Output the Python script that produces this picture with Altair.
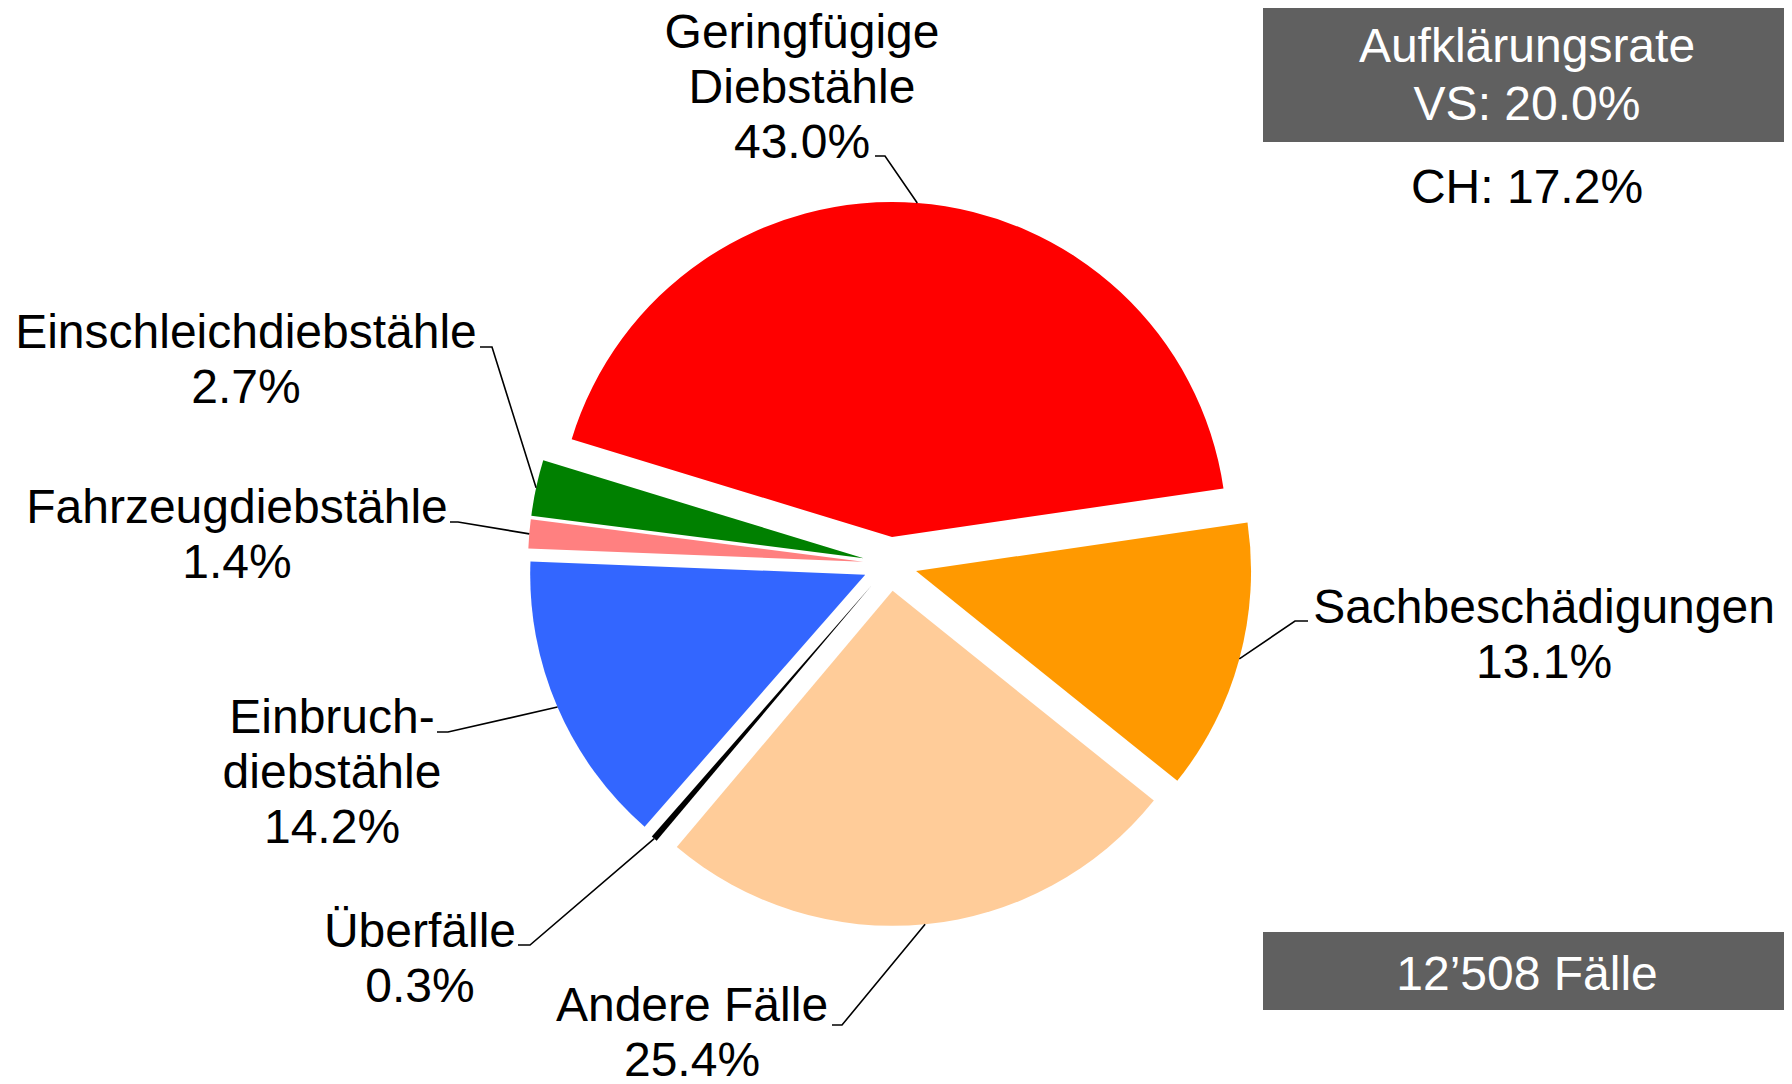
import math
import altair as alt
import pandas as pd

# ---------------- data ----------------
categories = ["Geringfügige Diebstähle", "Sachbeschädigungen", "Andere Fälle", "Überfälle",
              "Einbruchdiebstähle", "Fahrzeugdiebstähle", "Einschleichdiebstähle"]
label_names = ["Geringfügige\nDiebstähle", "Sachbeschädigungen", "Andere Fälle", "Überfälle",
               "Einbruch-\ndiebstähle", "Fahrzeugdiebstähle", "Einschleichdiebstähle"]
shares = [43.0, 13.1, 25.4, 0.3, 14.2, 1.4, 2.7]
colors = ["#FF0000", "#FF9900", "#FFCC99", "#000000", "#3366FF", "#FF8080", "#008000"]

rate_text = "Aufklärungsrate\nVS: 20.0%"
ch_text = "CH: 17.2%"
cases_text = "12’508 Fälle"

# ---------------- layout (page pixel coordinates) ----------------
W, H = 1776, 1068
MARGIN = 8
CX, CY, R, EXPLODE = 890, 564, 335, 27
START_DEG = -73.0
FONT = "Liberation Sans"
FS = 48
label_x = [802, 1544, 692, 420, 332, 237, 246]
label_y = [48, 623, 1021, 947, 733, 523, 348]
label_lh = [55, 55, 54, 55, 55, 55, 55]
elbow_x = [885, 1295, 842, 530, 448, 458, 492]
elbow_y = [156, 621, 1025, 945, 732, 522, 347]
tail_x = [875, 1308, 832, 518, 437, 450, 480]
box_x = [1263, 1263]
box_x2 = [1800, 1800]
box_y = [3, 932]
box_y2 = [142, 1010]
BOX_CX = 1527

# ---------------- derived tables ----------------
total = sum(shares)
a0 = math.radians(START_DEG)
rows, pts = [], []
cum = 0.0
for i, (c, v) in enumerate(zip(categories, shares)):
    s = cum / total
    cum += v
    e = cum / total
    mid = a0 + 2 * math.pi * (s + e) / 2
    dx, dy = math.sin(mid), -math.cos(mid)
    rows.append(dict(cat=c, value=v, s=s, e=e,
                     cx=CX + EXPLODE * dx, cy=CY + EXPLODE * dy,
                     lx=label_x[i], ly=label_y[i], lh=label_lh[i],
                     label=f"{label_names[i]}\n{v:.1f}%"))
    edge = (CX + (EXPLODE + R) * dx, CY + (EXPLODE + R) * dy)
    for k, (px, py) in enumerate([edge, (elbow_x[i], elbow_y[i]), (tail_x[i], elbow_y[i])]):
        pts.append(dict(cat=c, k=k, px=px, py=py))
slices = pd.DataFrame(rows)
leaders = pd.DataFrame(pts)
boxes = pd.DataFrame(dict(x=box_x, x2=box_x2, y=box_y, y2=box_y2))
box_texts = pd.DataFrame(dict(t=[rate_text, ch_text, cases_text],
                              x=[BOX_CX] * 3, y=[62, 203, 990],
                              col=["white", "black", "white"]))

xs = alt.Scale(domain=[MARGIN, MARGIN + W], range=[0, W])
ys = alt.Scale(domain=[MARGIN, MARGIN + H], range=[0, H])
col_scale = alt.Scale(domain=categories, range=colors)

pie = alt.Chart(slices).mark_arc(radius=R, stroke=None).encode(
    x=alt.X("cx:Q", scale=xs, axis=None),
    y=alt.Y("cy:Q", scale=ys, axis=None),
    theta=alt.Theta("s:Q", scale=alt.Scale(domain=[0, 1], range=[a0, a0 + 2 * math.pi])),
    theta2="e:Q",
    color=alt.Color("cat:N", scale=col_scale, legend=None),
)

lines = alt.Chart(leaders).mark_line(color="black", strokeWidth=1.6).encode(
    x=alt.X("px:Q", scale=xs, axis=None),
    y=alt.Y("py:Q", scale=ys, axis=None),
    detail="cat:N",
    order="k:Q",
)

labels = alt.Chart(slices).mark_text(
    font=FONT, fontSize=FS, lineBreak="\n",
    align="center", baseline="alphabetic", color="black",
).encode(
    x=alt.X("lx:Q", scale=xs, axis=None),
    y=alt.Y("ly:Q", scale=ys, axis=None),
    text="label:N",
    lineHeight=alt.LineHeight("lh:Q", scale=None),
) if hasattr(alt, "LineHeight") else None

if labels is None:
    labels = alt.Chart(slices).mark_text(
        font=FONT, fontSize=FS, lineHeight=55, lineBreak="\n",
        align="center", baseline="alphabetic", color="black",
    ).encode(
        x=alt.X("lx:Q", scale=xs, axis=None),
        y=alt.Y("ly:Q", scale=ys, axis=None),
        text="label:N",
    )

rects = alt.Chart(boxes).mark_rect(color="#606060").encode(
    x=alt.X("x:Q", scale=xs, axis=None), x2="x2:Q",
    y=alt.Y("y:Q", scale=ys, axis=None), y2="y2:Q",
)

btexts = alt.Chart(box_texts).mark_text(
    font=FONT, fontSize=FS, lineHeight=58, lineBreak="\n",
    align="center", baseline="alphabetic",
).encode(
    x=alt.X("x:Q", scale=xs, axis=None),
    y=alt.Y("y:Q", scale=ys, axis=None),
    text="t:N",
    color=alt.Color("col:N", scale=None),
)

chart = alt.layer(pie, lines, labels, rects, btexts).properties(
    width=W, height=H, padding=0, autosize="none", background="white"
).configure_view(stroke=None)

chart.save("out.html", embed_options={"renderer": "svg", "actions": False})
